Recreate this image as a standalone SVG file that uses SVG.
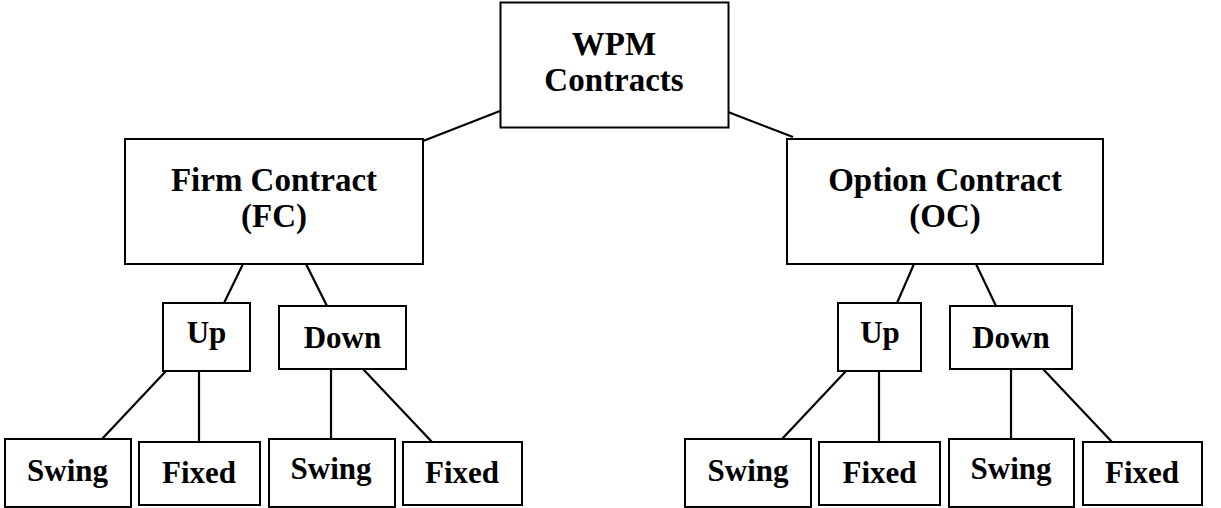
<svg xmlns="http://www.w3.org/2000/svg" width="1221" height="508" viewBox="0 0 1221 508">
<style>
.box{fill:#fff;stroke:#000;stroke-width:2}
.lbl{font-family:"Liberation Serif","Times New Roman",serif;font-weight:bold;font-size:31px;fill:#000;text-anchor:middle}
.big{font-size:33px}
.con line{stroke:#000;stroke-width:2.2}
</style>
<rect width="1221" height="508" fill="#fff"/>
<g class="con" id="connectors">
<line x1="500" y1="111" x2="423" y2="141"/>
<line x1="728" y1="112" x2="793" y2="137"/>
<line x1="243" y1="264" x2="224" y2="303"/>
<line x1="306" y1="264" x2="327" y2="306"/>
<line x1="914" y1="264" x2="897" y2="303"/>
<line x1="976" y1="264" x2="996" y2="306"/>
<line x1="166" y1="371" x2="102" y2="439"/>
<line x1="199" y1="371" x2="199" y2="442"/>
<line x1="331" y1="369" x2="331" y2="439"/>
<line x1="363" y1="369" x2="432" y2="442"/>
<line x1="846" y1="371" x2="782" y2="439"/>
<line x1="879" y1="371" x2="879" y2="442"/>
<line x1="1011" y1="369" x2="1011" y2="439"/>
<line x1="1043" y1="369" x2="1112" y2="442"/>
</g>
<g id="root"><rect class="box" x="500.5" y="2.5" width="228" height="125"/>
<text class="lbl big" x="614" y="55">WPM</text>
<text class="lbl big" x="614" y="91">Contracts</text></g>
<g id="fc"><rect class="box" x="125" y="139" width="298" height="125"/>
<text class="lbl big" x="274" y="191">Firm Contract</text>
<text class="lbl big" x="274" y="227">(FC)</text></g>
<g id="oc"><rect class="box" x="787" y="139" width="316" height="125"/>
<text class="lbl big" x="945" y="191">Option Contract</text>
<text class="lbl big" x="945" y="227">(OC)</text></g>
<g id="fc-up"><rect class="box" x="163" y="303" width="87" height="68"/>
<text class="lbl" x="206.5" y="343">Up</text></g>
<g id="fc-down"><rect class="box" x="279" y="306" width="127" height="63"/>
<text class="lbl" x="342.5" y="348">Down</text></g>
<g id="oc-up"><rect class="box" x="838" y="303" width="83" height="68"/>
<text class="lbl" x="880" y="343">Up</text></g>
<g id="oc-down"><rect class="box" x="950" y="306" width="122" height="63"/>
<text class="lbl" x="1011" y="348">Down</text></g>
<g id="fc-up-swing"><rect class="box" x="5" y="439" width="126" height="68"/>
<text class="lbl" x="67.5" y="481">Swing</text></g>
<g id="fc-up-fixed"><rect class="box" x="139" y="442" width="121" height="63"/>
<text class="lbl" x="199" y="483">Fixed</text></g>
<g id="fc-down-swing"><rect class="box" x="269" y="439" width="126" height="68"/>
<text class="lbl" x="331" y="479">Swing</text></g>
<g id="fc-down-fixed"><rect class="box" x="403" y="442" width="119" height="63"/>
<text class="lbl" x="462" y="483">Fixed</text></g>
<g id="oc-up-swing"><rect class="box" x="685" y="439" width="126" height="68"/>
<text class="lbl" x="748" y="481">Swing</text></g>
<g id="oc-up-fixed"><rect class="box" x="819" y="442" width="121" height="63"/>
<text class="lbl" x="879.5" y="483">Fixed</text></g>
<g id="oc-down-swing"><rect class="box" x="949" y="439" width="125" height="68"/>
<text class="lbl" x="1011" y="479">Swing</text></g>
<g id="oc-down-fixed"><rect class="box" x="1083" y="442" width="119" height="63"/>
<text class="lbl" x="1142" y="483">Fixed</text></g>
</svg>
